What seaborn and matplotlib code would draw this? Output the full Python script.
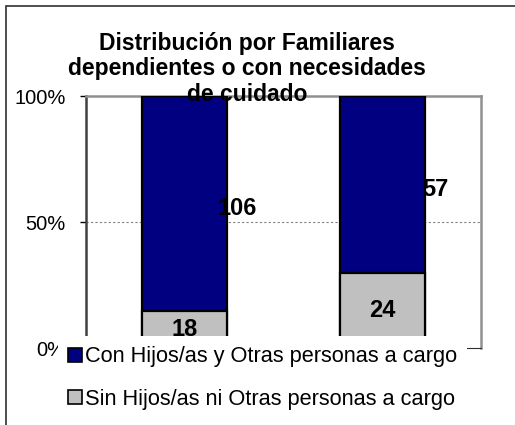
import pandas as pd
import matplotlib
matplotlib.use("Agg")
import matplotlib.pyplot as plt
from matplotlib.patches import Rectangle, Patch
import seaborn as sns

# =========================
# DATA
# =========================
grupos = ["Grupo 1", "Grupo 2"]
con_cargo = [106, 57]   # Con Hijos/as y Otras personas a cargo
sin_cargo = [18, 24]    # Sin Hijos/as ni Otras personas a cargo
series = ["Con Hijos/as y Otras personas a cargo",
          "Sin Hijos/as ni Otras personas a cargo"]
titulo = "Distribución por Familiares\ndependientes o con necesidades\nde cuidado"

NAVY = "#000080"
GRIS = "#C0C0C0"

df = pd.DataFrame({"grupo": grupos, "con": con_cargo, "sin": sin_cargo})
df["total"] = df["con"] + df["sin"]
df["pct_total"] = 1.0
df["pct_sin"] = df["sin"] / df["total"]

sns.set_style("white")
plt.rcParams["font.family"] = ["Liberation Sans", "DejaVu Sans"]
plt.rcParams["text.color"] = "black"
plt.rcParams["ytick.color"] = "black"
plt.rcParams["xtick.color"] = "black"

W, H = 515, 425
fig = plt.figure(figsize=(W / 100, H / 100), dpi=100)
ax = fig.add_axes([86 / W, 1 - 348 / H, 395 / W, 252 / H])

# stacked 100% bars: full navy bar, grey part drawn on top
sns.barplot(data=df, x="grupo", y="pct_total", color=NAVY, saturation=1,
            width=0.43, edgecolor="black", linewidth=1.6, ax=ax, zorder=3)
sns.barplot(data=df, x="grupo", y="pct_sin", color=GRIS, saturation=1,
            width=0.43, edgecolor="black", linewidth=1.6, ax=ax, zorder=3)

ax.set_ylim(0, 1)
ax.set_xlim(-0.5, 1.5)
ax.set_yticks([0, 0.5, 1])
ax.set_yticklabels(["0%", "50%", "100%"], fontsize=14.5)
ax.tick_params(axis="y", direction="out", length=4, width=1, pad=10.5,
               left=True, color="black", labelcolor="black")
ax.set_xticks([])
ax.set_xlabel("")
ax.set_ylabel("")
ax.axhline(0.5, color="#808080", lw=0.8, ls=(0, (2, 2)), zorder=1)

for side in ["top", "right"]:
    ax.spines[side].set_color("#909090")
    ax.spines[side].set_linewidth(1.8)
ax.spines["left"].set_color("#404040")
ax.spines["left"].set_linewidth(1.8)
ax.spines["bottom"].set_color("#303030")

# value labels
for i, row in df.iterrows():
    ax.text(i, row["pct_sin"] / 2, f"{row['sin']}", ha="center", va="center",
            fontsize=17, fontweight="bold", color="black", zorder=4)
    ax.text(i + 0.268, (row["pct_sin"] + 1) / 2 - 0.02, f"{row['con']}",
            ha="center", va="center", fontsize=17, fontweight="bold",
            color="black", zorder=4)

# title
fig.text(247 / W, 1 - 32 / H, titulo, ha="center", va="top", fontsize=16.5,
         fontweight="bold", linespacing=1.13, color="black")

# legend
handles = [Patch(facecolor=NAVY, edgecolor="black", lw=1.2),
           Patch(facecolor=GRIS, edgecolor="black", lw=1.2)]
leg = fig.legend(handles, series, loc="upper left",
                 bbox_to_anchor=(58 / W, 1 - 336 / H), fontsize=15.7,
                 frameon=True, fancybox=False, framealpha=1, edgecolor="white",
                 handlelength=0.6, handleheight=0.6, handletextpad=0.15,
                 labelspacing=0.99, borderpad=0.48, borderaxespad=0)
leg.get_frame().set_linewidth(0)
for t in leg.get_texts():
    t.set_color("black")

# outer chart border
fig.patches.append(Rectangle((6 / W, -0.05), 1.0, 1 - 6 / H + 0.05,
                             transform=fig.transFigure, fill=False,
                             edgecolor="#303030", lw=1.2))

plt.savefig("out.png", dpi=100)
plt.close()
